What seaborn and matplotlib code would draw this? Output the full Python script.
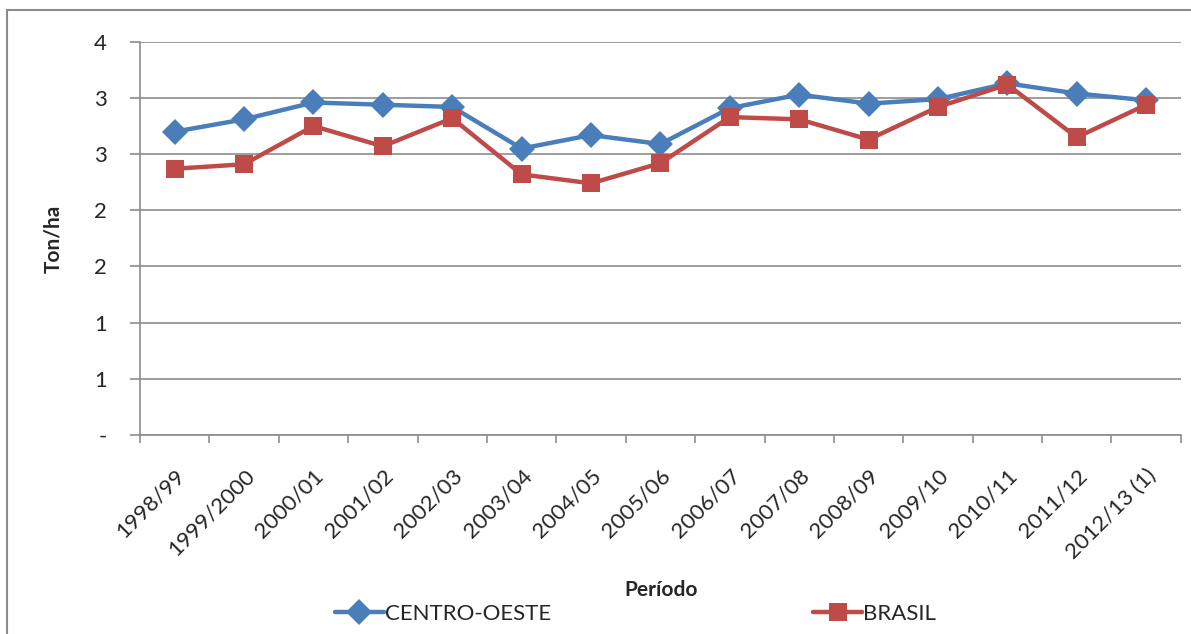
import pandas as pd
import matplotlib.pyplot as plt
import seaborn as sns
from matplotlib.ticker import FuncFormatter, MultipleLocator
from matplotlib.patches import Rectangle

periodos = ["1998/99", "1999/2000", "2000/01", "2001/02", "2002/03", "2003/04",
            "2004/05", "2005/06", "2006/07", "2007/08", "2008/09", "2009/10",
            "2010/11", "2011/12", "2012/13 (1)"]
centro_oeste = [2.70, 2.81, 2.96, 2.94, 2.92, 2.55, 2.67, 2.59, 2.91, 3.03,
                2.95, 2.99, 3.13, 3.04, 2.98]
brasil = [2.37, 2.41, 2.75, 2.57, 2.82, 2.32, 2.24, 2.42, 2.83, 2.81,
          2.63, 2.92, 3.12, 2.65, 2.94]

df = pd.DataFrame({
    "Periodo": periodos * 2,
    "Ton/ha": centro_oeste + brasil,
    "Serie": ["CENTRO-OESTE"] * len(periodos) + ["BRASIL"] * len(periodos),
})

sns.set_style("white")
plt.rcParams["font.family"] = ["Lato", "DejaVu Sans"]

fig = plt.figure(figsize=(11.91, 6.34), dpi=100)
ax = fig.add_axes([0.1175, 0.314, 0.874, 0.62])

# chart border (cut at the right/bottom edges like the reference)
fig.patches.append(Rectangle((7 / 1191, -0.05), 1.1, (634 - 10) / 634 + 0.05,
                             transform=fig.transFigure, fill=False,
                             edgecolor="#8c8c8c", linewidth=1.5))

palette = {"CENTRO-OESTE": "#4A7EBB", "BRASIL": "#BE4B48"}
sns.lineplot(data=df, x="Periodo", y="Ton/ha", hue="Serie", style="Serie",
             markers={"CENTRO-OESTE": "D", "BRASIL": "s"}, dashes=False,
             palette=palette, sort=False, linewidth=3.2, markersize=13,
             markeredgewidth=0, ax=ax)

ax.set_xlim(-0.5, len(periodos) - 0.5)
ax.set_ylim(0, 3.5)
ax.yaxis.set_major_locator(MultipleLocator(0.5))
ax.yaxis.set_major_formatter(FuncFormatter(lambda v, p: "-" if v == 0 else str(int(v + 0.5))))
ax.grid(axis="y", color="#8c8c8c", linewidth=1.2)
ax.set_axisbelow(True)

# category boundary ticks on x
ax.set_xticks([i - 0.5 for i in range(len(periodos) + 1)], minor=True)
ax.set_xticks(range(len(periodos)))
ax.set_xticklabels(periodos, rotation=45, ha="right", rotation_mode="anchor", fontsize=16)
ax.tick_params(axis="x", which="major", length=0, pad=22)
ax.tick_params(axis="x", which="minor", length=6, width=1.2, color="#8c8c8c", bottom=True)
ax.tick_params(axis="y", length=7, width=1.2, color="#8c8c8c", left=True, pad=17, labelsize=16)

for s in ["top", "right"]:
    ax.spines[s].set_visible(False)
for s in ["left", "bottom"]:
    ax.spines[s].set_color("#8c8c8c")
    ax.spines[s].set_linewidth(1.2)

ax.set_ylabel("Ton/ha", fontsize=15, fontweight="bold", labelpad=22)
ax.set_xlabel("")
fig.text(0.555, (634 - 590) / 634, "Período", ha="center", va="center",
         fontsize=15, fontweight="bold")

ax.legend(loc="center", bbox_to_anchor=(0.476, (634 - 614 - 199) / 393), bbox_transform=ax.transAxes,
          ncol=2, frameon=False, fontsize=16, columnspacing=11.8, handlelength=2.2,
          handletextpad=0.05)

plt.savefig("out.png", dpi=100)
